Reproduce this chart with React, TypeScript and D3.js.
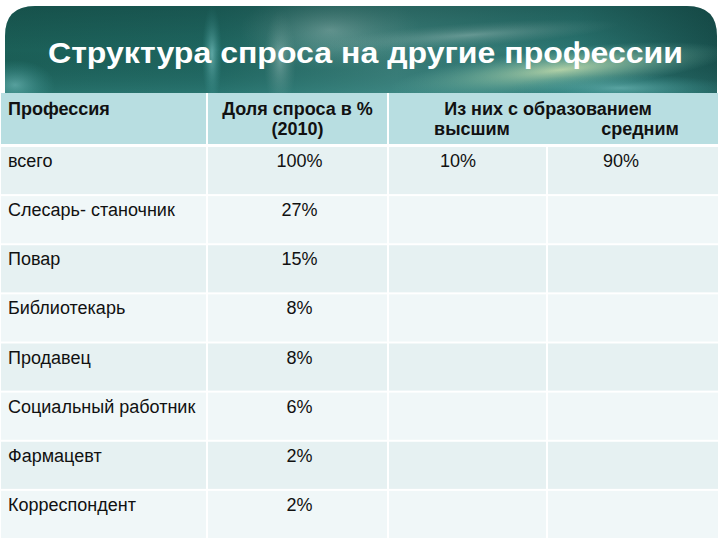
import * as d3 from "d3";

const W = 720;
const H = 540;

const title = "Структура спроса на другие профессии";

// table content
const professions = [
  "всего",
  "Слесарь- станочник",
  "Повар",
  "Библиотекарь",
  "Продавец",
  "Социальный работник",
  "Фармацевт",
  "Корреспондент",
];
const demandShare = ["100%", "27%", "15%", "8%", "8%", "6%", "2%", "2%"];
const higherEdu = ["10%", "", "", "", "", "", "", ""];
const secondaryEdu = ["90%", "", "", "", "", "", "", ""];

// column widths (relative)
const colWidths = [207, 181, 159, 172];

const FONT = "'Liberation Sans', Arial, sans-serif";

export default function App() {
  const tableTop = 93;
  const headerH = 53;
  const bodyTop = tableTop + headerH;

  const edges = [0, ...d3.cumsum(colWidths)];
  const xScale = d3.scaleLinear().domain([0, d3.sum(colWidths)]).range([0, 719]);
  const colX = edges.map((e) => xScale(e));

  const yScale = d3
    .scaleBand<string>()
    .domain(professions)
    .range([bodyTop, 539])
    .paddingInner(0);

  const cx = (i: number) => (colX[i] + colX[i + 1]) / 2;

  const rowFill = (i: number) => (i % 2 === 0 ? "#e6f1f2" : "#f0f7f8");

  return (
    <svg
      width={W}
      height={H}
      style={{ position: "absolute", left: 0, top: 0, background: "#fff" }}
      fontFamily={FONT}
    >
      <defs>
        <linearGradient id="bg" x1="0" y1="0" x2="1" y2="0">
          <stop offset="0" stopColor="#1b5f57" />
          <stop offset="0.3" stopColor="#1f6660" />
          <stop offset="0.55" stopColor="#3b7f7a" />
          <stop offset="0.8" stopColor="#2a7470" />
          <stop offset="1" stopColor="#184f4c" />
        </linearGradient>
        <linearGradient id="bgV" x1="0" y1="0" x2="0" y2="1">
          <stop offset="0" stopColor="#0f3c38" stopOpacity="0.45" />
          <stop offset="0.5" stopColor="#0f3c38" stopOpacity="0" />
          <stop offset="1" stopColor="#4aa7a5" stopOpacity="0.35" />
        </linearGradient>
        <radialGradient id="glow1" cx="0.5" cy="0.5" r="0.5">
          <stop offset="0" stopColor="#d8edb8" stopOpacity="0.9" />
          <stop offset="0.5" stopColor="#9fd0b0" stopOpacity="0.5" />
          <stop offset="1" stopColor="#6fb3a8" stopOpacity="0" />
        </radialGradient>
        <radialGradient id="glow2" cx="0.5" cy="0.5" r="0.5">
          <stop offset="0" stopColor="#7fc7c6" stopOpacity="0.7" />
          <stop offset="1" stopColor="#3a9a98" stopOpacity="0" />
        </radialGradient>
        <radialGradient id="glow3" cx="0.5" cy="0.5" r="0.5">
          <stop offset="0" stopColor="#a7c9c4" stopOpacity="0.55" />
          <stop offset="1" stopColor="#6c9c96" stopOpacity="0" />
        </radialGradient>
        <clipPath id="bannerClip">
          <path d="M5,93 L5,36 Q5,6 35,6 L687,6 Q717,6 717,36 L717,93 Z" />
        </clipPath>
      </defs>

      {/* banner */}
      <g clipPath="url(#bannerClip)">
        <rect x={0} y={0} width={W} height={100} fill="url(#bg)" />
        <ellipse cx={330} cy={30} rx={90} ry={40} fill="url(#glow3)" />
        <ellipse cx={212} cy={55} rx={10} ry={50} fill="url(#glow2)" />
        <ellipse cx={280} cy={60} rx={16} ry={50} fill="url(#glow3)" />
        <ellipse cx={560} cy={70} rx={170} ry={22} fill="url(#glow1)" transform="rotate(-6 560 70)" />
        <ellipse cx={470} cy={35} rx={150} ry={12} fill="url(#glow3)" transform="rotate(-4 470 35)" />
        <ellipse cx={620} cy={88} rx={110} ry={14} fill="url(#glow2)" />
        <ellipse cx={15} cy={85} rx={40} ry={25} fill="url(#glow2)" />
        <rect x={0} y={0} width={W} height={100} fill="url(#bgV)" />
        <text
          x={48}
          y={63}
          fill="#fff"
          fontSize={30}
          fontWeight="bold"
          textLength={635}
          lengthAdjust="spacingAndGlyphs"
        >
          {title}
        </text>
      </g>

      {/* header row */}
      <g>
        {[0, 1, 2].map((i) => {
          const x0 = i < 2 ? colX[i] : colX[2];
          const x1 = i < 2 ? colX[i + 1] : colX[4];
          return (
            <rect
              key={i}
              x={x0 + 1}
              y={tableTop}
              width={x1 - x0 - 2}
              height={headerH - 2}
              fill="#b8dee1"
            />
          );
        })}
        <g fontSize={18} fontWeight="bold" fill="#111">
          <text x={8} y={115}>Профессия</text>
          <text x={cx(1)} y={115} textAnchor="middle">Доля спроса в %</text>
          <text x={cx(1)} y={135} textAnchor="middle">(2010)</text>
          <text x={548} y={115} textAnchor="middle">Из них с образованием</text>
          <text x={472} y={135} textAnchor="middle">высшим</text>
          <text x={640} y={135} textAnchor="middle">средним</text>
        </g>
      </g>

      {/* body rows */}
      <g fontSize={18} fill="#111">
        {professions.map((p, r) => {
          const y = yScale(p)!;
          const h = yScale.bandwidth();
          const cells = [p, demandShare[r], higherEdu[r], secondaryEdu[r]];
          return (
            <g key={p}>
              {cells.map((c, i) => (
                <rect
                  key={i}
                  x={colX[i] + 1}
                  y={y + 1}
                  width={colX[i + 1] - colX[i] - 2}
                  height={h - 2}
                  fill={rowFill(r)}
                />
              ))}
              {cells.map((c, i) =>
                c ? (
                  <text
                    key={"t" + i}
                    x={i === 0 ? 8 : i === 1 ? cx(1) + 2 : i === 2 ? 458 : 621}
                    y={y + 21}
                    textAnchor={i === 0 ? "start" : "middle"}
                  >
                    {c}
                  </text>
                ) : null
              )}
            </g>
          );
        })}
      </g>
    </svg>
  );
}
